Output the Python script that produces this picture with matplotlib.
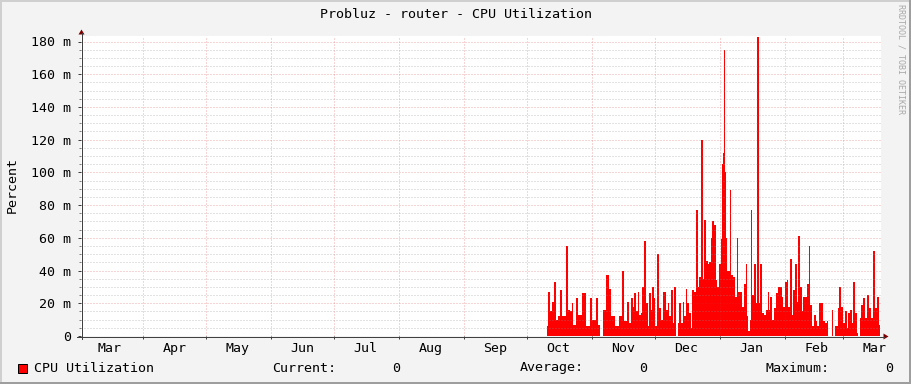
import numpy as np
import matplotlib
matplotlib.use('Agg')
import matplotlib.pyplot as plt
import matplotlib.dates as mdates
from matplotlib.ticker import MultipleLocator, FuncFormatter, NullFormatter
from matplotlib.patches import Polygon, Rectangle

title = 'Probluz - router - CPU Utilization'
y_label = 'Percent'
series_name = 'CPU Utilization'
stats = [('Current:', '0'), ('Average:', '0'), ('Maximum:', '0')]
watermark = 'RRDTOOL / TOBI OETIKER'

# time axis (days are counted from origin)
origin = np.datetime64('2022-10-01')
x_range = (-212.8, 168.9)

days = [9.5, 10.5, 11.5, 12.4, 13.4, 14.3, 15.3, 16.2, 17.2, 18.1, 19.1, 20.0, 21.0, 21.5,
        22.4, 23.9, 24.8, 25.8, 26.7, 27.7, 28.6, 29.6, 30.5, 31.5, 32.4, 33.4, 34.4, 35.1,
        36.0, 36.3, 37.2, 38.6, 39.6, 40.6, 41.5, 42.5, 43.4, 44.4, 45.8, 46.8, 48.2, 49.1,
        50.1, 50.6, 51.5, 52.5, 53.0, 53.9, 54.9, 55.3, 56.3, 57.3, 57.7, 58.7, 59.6, 60.1,
        61.1, 61.5, 62.5, 63.5, 64.4, 65.8, 66.8, 67.3, 68.2, 69.2, 69.7, 70.6, 71.4, 71.8,
        72.0, 73.0, 74.0, 74.4, 75.4, 76.3, 76.8, 77.8, 78.7, 79.2, 80.2, 81.1, 81.6, 82.5,
        83.5, 84.0, 84.9, 85.9, 86.4, 87.3, 88.3, 88.7, 89.7, 90.6, 91.1, 92.1, 93.0, 93.5,
        94.0, 94.4, 94.9, 95.4, 95.9, 96.4, 97.3, 97.8, 98.8, 99.7, 100.4, 101.2, 102.1, 102.9,
        103.9, 104.6, 105.3, 106.0, 106.4, 107.1, 107.8, 108.8, 109.5, 110.0, 110.4, 110.9,
        111.6, 112.4, 113.6, 114.7, 115.2, 115.9, 116.4, 117.4, 118.3, 119.3, 120.2, 121.2,
        121.9, 122.6, 123.6, 124.3, 125.0, 126.0, 126.9, 127.4, 128.4, 128.8, 130.0, 130.7,
        131.4, 132.2, 133.1, 134.1, 134.8, 135.5, 136.2, 137.4, 138.4, 138.8, 140.3, 141.7,
        142.7, 143.6, 144.1, 145.3, 145.5, 145.8, 146.0, 146.9, 147.2, 147.9, 148.4, 149.3,
        150.0, 151.2, 152.2, 152.9, 153.6, 154.6, 155.1, 156.0, 157.0, 157.7, 157.9, 158.6,
        158.9, 159.8, 160.8, 161.7, 162.4, 163.6, 164.8, 165.6, 166.5, 167.5, 168.2, 168.4]

# CPU utilisation in milli-percent
cpu = [6, 27, 15, 21, 33, 10, 12, 28, 12, 12, 55, 16, 15, 20,
       7, 23, 13, 13, 26, 26, 6, 6, 23, 10, 10, 23, 7, 0,
       0, 16, 16, 37, 29, 12, 12, 6, 6, 12, 40, 9, 21, 8,
       23, 18, 26, 15, 27, 13, 14, 30, 58, 20, 6, 26, 16, 30,
       23, 6, 50, 17, 10, 27, 16, 20, 12, 28, 8, 30, 0, 0,
       8, 20, 8, 21, 12, 29, 20, 14, 5, 28, 27, 77, 30, 36,
       120, 35, 71, 46, 44, 45, 60, 70, 68, 34, 30, 44, 59, 105,
       112, 175, 100, 60, 40, 40, 89, 37, 36, 24, 60, 27, 27, 18,
       32, 44, 12, 3, 10, 77, 25, 44, 20, 183, 183, 20,
       44, 14, 13, 16, 27, 16, 24, 10, 17, 26, 30, 30,
       24, 18, 33, 34, 18, 47, 13, 28, 44, 21, 61, 30,
       15, 24, 24, 32, 55, 19, 6, 13, 9, 6, 20, 9,
       8, 9, 0, 0, 16, 16, 0, 0, 6, 6, 17, 30,
       18, 8, 15, 5, 14, 16, 8, 33, 14, 2, 0, 0,
       11, 19, 23, 11, 25, 17, 11, 52, 17, 24, 7, 7]

W, H = 911, 384
plt.rcParams['font.family'] = 'DejaVu Sans Mono'
plt.rcParams['font.size'] = 9.5

fig = plt.figure(figsize=(W / 100, H / 100), dpi=100, facecolor='#F3F3F3')
L, R, T, B = 81, 881, 36, 336
ax = fig.add_axes([L / W, 1 - B / H, (R - L) / W, (B - T) / H])
ax.set_facecolor('white')

t0 = mdates.date2num(origin)
t = t0 + np.array(days)
ax.fill_between(t, cpu, step='mid', color='#FF0000', lw=0, zorder=2)

ax.set_xlim(t0 + x_range[0], t0 + x_range[1])
ax.set_ylim(0, 180 * (B - T) / (B - 41.5))

ax.xaxis.set_major_locator(mdates.MonthLocator())
ax.xaxis.set_major_formatter(NullFormatter())
ax.xaxis.set_minor_locator(mdates.MonthLocator(bymonthday=16))
ax.xaxis.set_minor_formatter(mdates.DateFormatter('%b'))
ax.yaxis.set_major_locator(MultipleLocator(20))
ax.yaxis.set_minor_locator(MultipleLocator(5))
ax.yaxis.set_major_formatter(FuncFormatter(lambda v, p: '0' if v == 0 else f'{v:.0f} m'))

ax.tick_params(axis='x', which='major', length=2, width=0.72, color='#404040')
ax.tick_params(axis='x', which='minor', length=0, pad=4.5, labelsize=9.5)
ax.tick_params(axis='y', which='major', length=2, width=0.72, color='#404040', pad=5, labelsize=9.5)
ax.tick_params(axis='y', which='minor', length=1.5, width=0.72, color='#808080')

dots = (0, (1, 2))
ax.set_axisbelow(False)
ax.grid(True, which='major', axis='both', color='#DE3030', alpha=0.4, lw=0.72, ls=dots)
ax.grid(True, which='minor', axis='y', color='#8F8F8F', alpha=0.5, lw=0.72, ls=dots)
for s in ax.spines.values():
    s.set_visible(False)

# overlay in pixel coordinates for frame, axis arrows and legend
ov = fig.add_axes([0, 0, 1, 1], zorder=5)
ov.set_xlim(0, W)
ov.set_ylim(H, 0)
ov.axis('off')
ov.patch.set_alpha(0)

ov.add_patch(Rectangle((0, 0), W, 2, color='#CFCFCF', lw=0))
ov.add_patch(Rectangle((0, 0), 2, H, color='#CFCFCF', lw=0))
ov.add_patch(Rectangle((0, H - 2), W, 2, color='#9E9E9E', lw=0))
ov.add_patch(Rectangle((W - 2, 0), 2, H, color='#9E9E9E', lw=0))

ov.plot([81.5, 81.5], [339, 33], color='#404040', lw=0.72)
ov.plot([77, 884], [336.5, 336.5], color='#404040', lw=0.72)
ov.add_patch(Polygon([(78.5, 34.5), (84.5, 34.5), (81.5, 29.5)], color='#7F0000', lw=0))
ov.add_patch(Polygon([(883.5, 333.5), (883.5, 339.5), (888.5, 336.5)], color='#7F0000', lw=0))

ov.text(W / 2, 14, title, ha='center', va='center', fontsize=9.6)
ov.text(12, 185, y_label, ha='center', va='center', rotation=90, fontsize=9.6)
ov.text(901, 4, watermark, ha='center', va='top', rotation=270, fontsize=6, color='#A8A8A8')

ov.add_patch(Rectangle((17.5, 363.5), 9, 9, facecolor='#FF0000', edgecolor='black', lw=0.72))
ov.text(34, 368, series_name, ha='left', va='center', fontsize=9.6)
label_x = [272, 520, 766]
value_x = [400, 647, 893]
for (name, val), lx, vx in zip(stats, label_x, value_x):
    ov.text(lx, 368, name, ha='left', va='center', fontsize=9.6)
    ov.text(vx, 368, val, ha='right', va='center', fontsize=9.6)

fig.savefig('out.png', dpi=100, facecolor=fig.get_facecolor())
